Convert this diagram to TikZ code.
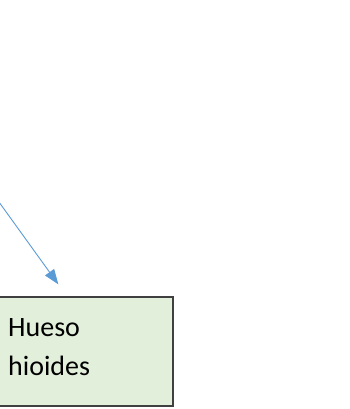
\documentclass[tikz,border=0pt]{standalone}
\usepackage{fontspec}
\setmainfont{Carlito}
\usetikzlibrary{arrows.meta,calc}
\definecolor{officeblue}{HTML}{5B9BD5}
\definecolor{boxfill}{HTML}{E2EFDA}
\definecolor{boxline}{HTML}{404040}
\tikzset{
  pointer/.style={draw=officeblue, line width=0.9pt, -{Triangle[length=15pt,width=11pt]}, fill=none},
  labelbox/.style={draw=boxline, fill=boxfill, line width=1.3pt, rectangle, inner sep=0pt},
  labeltext/.style={font=\fontsize{28}{39.5}\selectfont, align=left, inner sep=0pt, anchor=base west}
}
\begin{document}
\begin{tikzpicture}[x=1pt,y=1pt]
\useasboundingbox (0,0) rectangle (349,409);
\clip (0,0) rectangle (349,409);
\node[labelbox, minimum width=183pt, minimum height=109pt] (box) at (81.5,57.5) {};
\node[labeltext] (lbl) at (8,33) {Hueso\\hioides};
\coordinate (start) at (-5,212.5);
\coordinate (tip) at ($(box.north west)+(69,12)$);
\draw[pointer] (start) -- (tip);
\end{tikzpicture}
\end{document}
